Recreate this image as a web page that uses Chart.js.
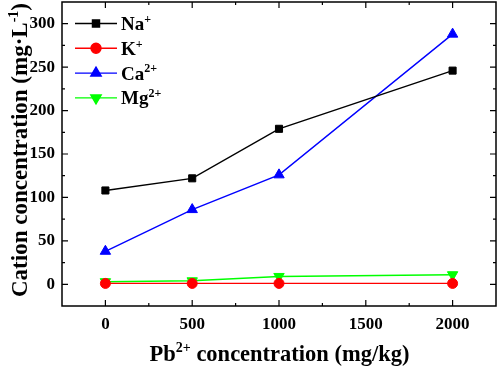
<!DOCTYPE html>
<html>
<head>
<meta charset="utf-8">
<script src="https://cdn.jsdelivr.net/npm/chart.js@4/dist/chart.umd.min.js"></script>
<style>
  html, body { margin: 0; padding: 0; background: #fff; }
  #wrap { width: 498px; height: 369px; }
</style>
</head>
<body>
<div id="wrap"><canvas id="chart"></canvas></div>
<script>
// Data
const pbLevels = [0, 500, 1000, 2000];
const naValues = [108, 122, 179, 246];
const kValues = [1, 1, 1, 1];
const caValues = [38, 86, 126, 288];
const mgValues = [3, 4, 9, 11];

const xTicks = [0, 500, 1000, 1500, 2000];
const yTicks = [0, 50, 100, 150, 200, 250, 300];

const legendItems = [
  { base: "Na", sup: "+", color: "#000000", style: "rect", rot: 0 },
  { base: "K", sup: "+", color: "#ff0000", style: "circle", rot: 0 },
  { base: "Ca", sup: "2+", color: "#0000ff", style: "triangle", rot: 0 },
  { base: "Mg", sup: "2+", color: "#00ff00", style: "triangle", rot: 180 }
];

const FONT = "'Liberation Serif', 'Times New Roman', serif";

function pts(values) {
  return pbLevels.map((x, i) => ({ x: x, y: values[i] }));
}

function series(label, values, color, style, rot, radius) {
  return {
    label: label,
    data: pts(values),
    borderColor: color,
    backgroundColor: color,
    borderWidth: 1.4,
    pointStyle: style,
    rotation: rot,
    pointRadius: radius,
    pointBorderWidth: 1,
    tension: 0
  };
}

// text with raised parts: [[text, isSup], ...]
function richText(ctx, parts, size) {
  let w = 0;
  parts.forEach(p => {
    ctx.font = "bold " + (p[1] ? Math.round(size * 0.62) : size) + "px " + FONT;
    w += ctx.measureText(p[0]).width;
  });
  return w;
}
function drawRich(ctx, parts, x, y, size) {
  let cx = x;
  parts.forEach(p => {
    ctx.font = "bold " + (p[1] ? Math.round(size * 0.62) : size) + "px " + FONT;
    ctx.fillText(p[0], cx, p[1] ? y - size * 0.38 : y);
    cx += ctx.measureText(p[0]).width;
  });
}

const noPad = (s) => {
  s.paddingTop = 0; s.paddingBottom = 0; s.paddingLeft = 0; s.paddingRight = 0;
};

// Box around the plot, inward tick marks, axis titles and the legend
const frame = {
  id: "frame",
  afterDraw(chart) {
    const ctx = chart.ctx;
    const a = chart.chartArea;
    const xs = chart.scales.x;
    const ys = chart.scales.y;
    ctx.save();
    ctx.strokeStyle = "#000";
    ctx.lineWidth = 1.5;
    ctx.strokeRect(a.left, a.top, a.right - a.left, a.bottom - a.top);
    ctx.lineWidth = 1.2;
    ctx.beginPath();
    for (let v = -250; v <= 2250; v += 250) {
      if (v <= xs.min || v >= xs.max) continue;
      const len = v % 500 === 0 ? 6 : 3;
      const px = xs.getPixelForValue(v);
      ctx.moveTo(px, a.bottom); ctx.lineTo(px, a.bottom - len);
      ctx.moveTo(px, a.top); ctx.lineTo(px, a.top + len);
    }
    for (let v = -25; v <= 325; v += 25) {
      if (v <= ys.min || v >= ys.max) continue;
      const len = v % 50 === 0 ? 6 : 3;
      const py = ys.getPixelForValue(v);
      ctx.moveTo(a.left, py); ctx.lineTo(a.left + len, py);
      ctx.moveTo(a.right, py); ctx.lineTo(a.right - len, py);
    }
    ctx.stroke();

    ctx.fillStyle = "#000";
    ctx.textBaseline = "alphabetic";
    ctx.textAlign = "left";

    // x axis title
    const xt = [["Pb", false], ["2+", true], [" concentration (mg/kg)", false]];
    const xw = richText(ctx, xt, 22.5);
    drawRich(ctx, xt, 279.5 - xw / 2, 361, 22.5);

    // y axis title, rotated
    const yt = [["Cation concentration (mg·L", false], ["-1", true], [")", false]];
    const yw = richText(ctx, yt, 23);
    ctx.save();
    ctx.translate(27, 150);
    ctx.rotate(-Math.PI / 2);
    drawRich(ctx, yt, -yw / 2, 0, 23);
    ctx.restore();

    // legend inside the plot
    const x0 = 75, x1 = 117, tx = 121;
    legendItems.forEach((it, i) => {
      const y = 23.5 + i * 24.8;
      ctx.strokeStyle = it.color;
      ctx.fillStyle = it.color;
      ctx.lineWidth = 1.4;
      ctx.beginPath();
      ctx.moveTo(x0, y); ctx.lineTo(x1, y);
      ctx.stroke();
      Chart.helpers.drawPoint(ctx, {
        pointStyle: it.style, rotation: it.rot,
        radius: it.style === "triangle" ? 6 : 5, borderWidth: 1
      }, (x0 + x1) / 2, y);
      ctx.fillStyle = "#000";
      drawRich(ctx, [[it.base, false], [it.sup, true]], tx, y + 6.5, 19);
    });
    ctx.restore();
  }
};

const ctx = document.getElementById("chart").getContext("2d");
new Chart(ctx, {
  type: "line",
  data: {
    datasets: [
      series("Na+", naValues, "#000000", "rect", 0, 5),
      series("K+", kValues, "#ff0000", "circle", 0, 5),
      series("Ca2+", caValues, "#0000ff", "triangle", 0, 6),
      series("Mg2+", mgValues, "#00ff00", "triangle", 180, 6)
    ]
  },
  options: {
    responsive: true,
    maintainAspectRatio: false,
    animation: false,
    layout: { autoPadding: false, padding: { top: 2, right: 2, left: 0, bottom: 0 } },
    plugins: {
      legend: { display: false },
      tooltip: { enabled: false }
    },
    scales: {
      x: {
        type: "linear",
        min: -250,
        max: 2250,
        afterBuildTicks: (s) => { s.ticks = xTicks.map(v => ({ value: v })); },
        afterFit: (s) => { s.height = 63; noPad(s); },
        grid: { display: false, drawTicks: false },
        border: { display: false },
        ticks: {
          padding: 8,
          color: "#000",
          font: { family: FONT, size: 17, weight: "bold" },
          maxRotation: 0,
          callback: (v) => String(v)
        }
      },
      y: {
        min: -25,
        max: 325,
        afterBuildTicks: (s) => { s.ticks = yTicks.map(v => ({ value: v })); },
        afterFit: (s) => { s.width = 62; noPad(s); },
        grid: { display: false, drawTicks: false },
        border: { display: false },
        ticks: {
          padding: 7,
          color: "#000",
          font: { family: FONT, size: 17, weight: "bold" },
          callback: (v) => String(v)
        }
      }
    }
  },
  plugins: [frame]
});
</script>
</body>
</html>
